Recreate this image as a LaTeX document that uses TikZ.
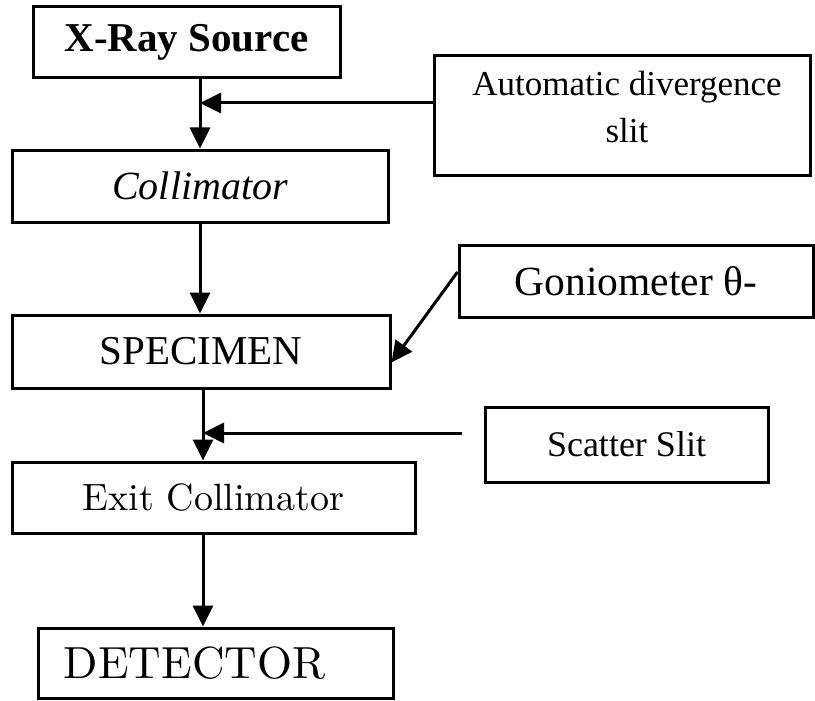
\documentclass[tikz,border=0pt]{standalone}
\usepackage{fontspec}
\setmainfont{Liberation Serif}
\newfontfamily\lmfont{lmroman10-regular}[Extension=.otf]
\usetikzlibrary{arrows.meta}
\tikzset{
  block/.style={draw, line width=3pt, inner sep=0pt, align=center},
  flow/.style={line width=3pt, -{Triangle[length=21pt,width=20pt]}},
}
\begin{document}
\begin{tikzpicture}[x=1pt,y=-1pt]
\useasboundingbox (0,0) rectangle (815,701);

% main beam path
\node[block, minimum width=307pt, minimum height=71pt,
      font=\bfseries\fontsize{41}{48}\selectfont] (xray) at (186.5,42.5) {X-Ray Source};
\node[block, minimum width=376pt, minimum height=72pt,
      font=\itshape\fontsize{40}{48}\selectfont] (coll) at (200,186) {Collimator};
\node[block, minimum width=378pt, minimum height=73pt,
      font=\fontsize{41}{48}\selectfont] (spec) at (201,351.5) {SPECIMEN};
\node[block, minimum width=403pt, minimum height=71pt,
      font=\lmfont\fontsize{38}{46}\selectfont] (exit) at (213.5,497.5) {Exit Collimator};
\node[block, minimum width=355pt, minimum height=70pt,
      font=\lmfont\fontsize{45}{54}\selectfont] (det) at (215.5,663) {DETECTOR\hspace*{42pt}};

% side components
\node[block, minimum width=376pt, minimum height=119pt,
      font=\fontsize{35}{47}\selectfont] (auto) at (622,115.5) {\hspace*{10pt}Automatic divergence\\\hspace*{10pt}slit\\[-29pt]};
\node[block, minimum width=354pt, minimum height=72pt,
      font=\fontsize{41.5}{48}\selectfont] (gonio) at (636,281) {Goniometer θ-};
\node[block, minimum width=283pt, minimum height=75pt,
      font=\fontsize{36}{44}\selectfont] (scat) at (626.5,444.5) {Scatter Slit};

% junction points on the beam
\coordinate (j1) at (200,103);
\coordinate (j2) at (203,433);
\coordinate (sfree) at (462,433);

% beam arrows
\draw[flow] (xray.south -| j1) -- (coll.north -| j1);
\draw[flow] (coll.south -| j1) -- (spec.north -| j1);
\draw[flow] (spec.south -| j2) -- (exit.north -| j2);
\draw[flow] (exit.south -| j2) -- (det.north -| j2);

% side inputs
\draw[flow] (auto.west |- j1) -- (j1);
\draw[flow] ([yshift=9pt]gonio.west) -- ([yshift=-11pt]spec.east);
\draw[flow] (sfree) -- (j2);
\end{tikzpicture}
\end{document}
